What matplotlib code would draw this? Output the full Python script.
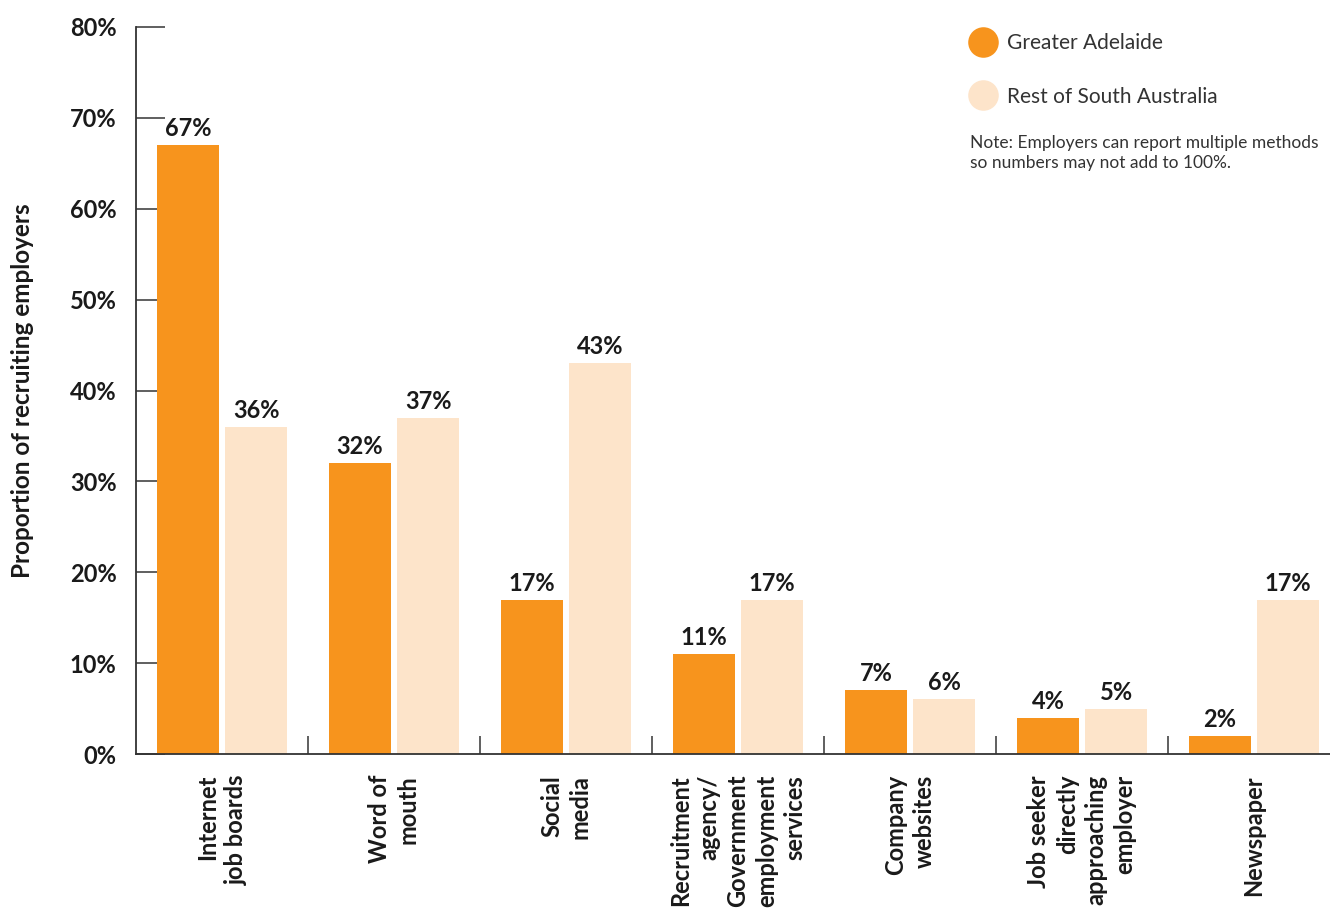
import matplotlib.pyplot as plt
import numpy as np
from matplotlib.lines import Line2D

plt.rcParams['font.family'] = ['Lato', 'DejaVu Sans']

categories = [
    "Internet\njob boards",
    "Word of\nmouth",
    "Social\nmedia",
    "Recruitment\nagency/\nGovernment\nemployment\nservices",
    "Company\nwebsites",
    "Job seeker\ndirectly\napproaching\nemployer",
    "Newspaper",
]
adelaide = [67, 32, 17, 11, 7, 4, 2]
rest_sa = [36, 37, 43, 17, 6, 5, 17]
series_names = ["Greater Adelaide", "Rest of South Australia"]
yticks = [0, 10, 20, 30, 40, 50, 60, 70, 80]

orange = "#F7941D"
light = "#FDE4CA"
dark = "#1a1a1a"

fig = plt.figure(figsize=(13.3, 9.15), dpi=100)
ax = fig.add_axes([136 / 1330, 1 - 754 / 915, 1204 / 1330, 727 / 915])

x = np.arange(len(categories))
w = 0.36
off = 0.198
b1 = ax.bar(x - off, adelaide, w, color=orange, zorder=2)
b2 = ax.bar(x + off, rest_sa, w, color=light, zorder=2)

for bars, vals in ((b1, adelaide), (b2, rest_sa)):
    for b, v in zip(bars, vals):
        ax.text(b.get_x() + b.get_width() / 2, v + 0.55, f"{v}%", ha="center", va="bottom",
                fontsize=17, fontweight="bold", color=dark)

ax.set_xlim(-0.5, len(categories) - 0.5)
ax.set_ylim(0, 80)
ax.set_yticks(yticks)
ax.set_yticklabels([f"{t}%" for t in yticks], fontsize=17, fontweight="bold", color=dark)
ax.tick_params(axis="y", direction="in", length=21, width=1.2, color="#444444", pad=14)

ax.set_xticks(np.arange(len(categories) - 1) + 0.5)
ax.set_xticklabels([])
ax.tick_params(axis="x", direction="in", length=13, width=1.2, color="#444444")
ax.set_axisbelow(True)

for i, c in enumerate(categories):
    ax.text(i, -2.3, c, rotation=90, ha="center", va="top", multialignment="right",
            fontsize=17, fontweight="bold", color=dark, linespacing=1.3)

for s in ("top", "right"):
    ax.spines[s].set_visible(False)
for s in ("left", "bottom"):
    ax.spines[s].set_color("#333333")
    ax.spines[s].set_linewidth(1.3)

ax.set_ylabel("Proportion of recruiting employers", fontsize=17.5, fontweight="bold",
              color=dark, labelpad=26)

handles = [Line2D([], [], marker="o", linestyle="", markersize=22, markerfacecolor=c,
                  markeredgecolor="none") for c in (orange, light)]
fig.legend(handles, series_names, loc="upper left", bbox_to_anchor=(954 / 1330, 1 - 25 / 915),
           frameon=False, fontsize=15, labelspacing=1.6, handletextpad=0.15,
           labelcolor="#333333", borderaxespad=0)

fig.text(970 / 1330, 1 - 135 / 915,
         "Note: Employers can report multiple methods\nso numbers may not add to 100%.",
         ha="left", va="top", fontsize=12.5, color="#333333", linespacing=1.3)

fig.savefig("out.png", dpi=100)
